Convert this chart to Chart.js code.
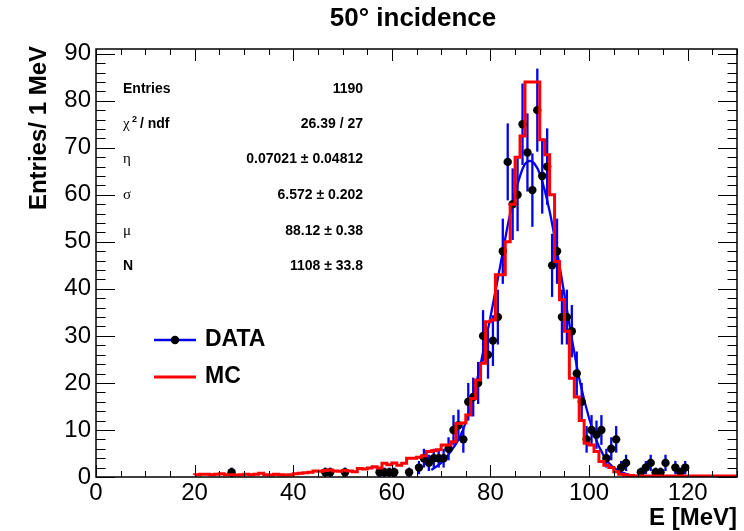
<!DOCTYPE html>
<html>
<head>
<meta charset="utf-8">
<script src="https://cdn.jsdelivr.net/npm/chart.js@4.4.1/dist/chart.umd.min.js"></script>
<style>
  html, body { margin: 0; padding: 0; background: #fff; }
  #wrap { width: 744px; height: 531px; }
</style>
</head>
<body>
<div id="wrap"><canvas id="chart" width="744" height="531"></canvas></div>
<script>
// --- data ---
const dataX = [27.5, 46.5, 47.5, 50.5, 57.5, 58.5, 59.5, 60.5, 63.5, 65.5, 66.5, 67.5, 68.5, 69.5, 70.5,
  71.5, 72.5, 73.5, 74.5, 75.5, 76.5, 77.5, 78.5, 79.5, 80.5, 81.5, 82.5, 83.5, 84.5, 85.5,
  86.5, 87.5, 88.5, 89.5, 90.5, 91.5, 92.5, 93.5, 94.5, 95.5, 96.5, 97.5, 98.5, 99.5, 100.5,
  101.5, 102.5, 103.5, 104.5, 105.5, 106.5, 107.5, 110.5, 111.5, 112.5, 113.5, 114.5, 115.5,
  117.5, 118.5, 119.5];
const dataY = [1, 1, 1, 1, 1, 1, 1, 1, 1, 2, 4, 3, 4, 4, 4,
  6, 10, 11, 8, 16, 17, 20, 30, 26, 29, 34, 48, 67, 58, 60,
  75, 69, 61, 78, 64, 66, 45, 48, 34, 34, 31, 22, 16, 8, 10,
  9, 10, 4, 6, 8, 2, 3, 1, 2, 3, 1, 1, 3,
  2, 1, 2];

// MC histogram, 1 MeV bins starting at 20 MeV
const mcFirstEdge = 20;
const mcValues = [
  0.4, 0.5, 0.6, 0.6, 0.5, 0.6, 0.7, 0.5, 0.5, 0.4,   // 20-29
  0.5, 0.6, 0.5, 0.6, 0.8, 0.5, 0.4, 0.6, 0.5, 0.4,   // 30-39
  0.5, 0.7, 0.8, 0.9, 1.0, 1.3, 1.2, 1.4, 1.5, 1.3,   // 40-49
  1.2, 1.4, 1.3, 1.1, 1.8, 1.7, 1.9, 2.2, 1.9, 2.9,   // 50-59
  2.6, 3.0, 2.5, 2.9, 4.0, 4.0, 4.2, 4.5, 5.4, 5.6,   // 60-69
  5.8, 6.8, 6.8, 7.5, 11.4, 11.5, 13.2, 16.7, 20.6, 24.2, // 70-79
  33.0, 33.4, 43, 43, 50, 58, 68, 72.5, 84, 84,        // 80-89
  84, 71.7, 68.5, 60, 45.8, 37.7, 31, 21, 17, 12,      // 90-99
  7.2, 6.8, 5.4, 3.3, 2.5, 2.0, 1.1, 0.6, 0.4, 0.3,    // 100-109
  0.2, 0.2, 0.2, 0.2, 0.2, 0.2, 0.2, 0.2, 0.2, 0.2,    // 110-119
  0.2, 0.2, 0.2, 0.2, 0.2, 0.2, 0.2, 0.2, 0.2, 0.2     // 120-129
];

// fitted curve
const fitX = [68, 70, 72, 74, 76, 78, 80, 82, 84, 86, 87, 88, 89, 90, 92, 94, 96, 98, 100, 102, 104, 106, 108];
const fitY = [1.5, 3, 5.5, 9, 15, 24, 34, 45, 56, 64, 66.5, 67.2, 66.5, 64.5, 56.5, 45, 32.5, 21, 12.5, 6.5, 3, 1.3, 0.5];

const xTickStep = 20;
const yTickStep = 10;

const statsRows = [
  ['Entries', '1190'],
  ['chi', '26.39 / 27'],
  ['\u03b7', '0.07021 \u00b1 0.04812'],
  ['\u03c3', '6.572 \u00b1 0.202'],
  ['\u03bc', '88.12 \u00b1 0.38'],
  ['N', '1108 \u00b1 33.8']
];

// --- build datasets ---
const mcPoints = mcValues.map((v, i) => ({ x: mcFirstEdge + i, y: v }));
mcPoints.push({ x: mcFirstEdge + mcValues.length, y: mcValues[mcValues.length - 1] });
const dataPoints = dataX.map((x, i) => ({ x: x, y: dataY[i] }));
const fitPoints = fitX.map((x, i) => ({ x: x, y: fitY[i] }));

const SANS = '"Liberation Sans", Arial, Helvetica, sans-serif';
const SERIF = '"Liberation Serif", "DejaVu Serif", serif';

// error bars + frame + ticks + text, ROOT look
const rootStyle = {
  id: 'rootStyle',
  beforeDatasetsDraw(chart) {
    const ctx = chart.ctx, xs = chart.scales.x, ys = chart.scales.y;
    const a = chart.chartArea;
    ctx.save();
    ctx.beginPath();
    ctx.rect(a.left, a.top, a.right - a.left, a.bottom - a.top);
    ctx.clip();
    ctx.strokeStyle = '#0000ee';
    ctx.lineWidth = 2.3;
    dataX.forEach((x, i) => {
      const e = Math.sqrt(dataY[i]);
      const px = xs.getPixelForValue(x);
      ctx.beginPath();
      ctx.moveTo(px, ys.getPixelForValue(dataY[i] - e));
      ctx.lineTo(px, ys.getPixelForValue(dataY[i] + e));
      ctx.stroke();
    });
    ctx.restore();
  },
  afterDraw(chart) {
    const ctx = chart.ctx, xs = chart.scales.x, ys = chart.scales.y;
    const a = chart.chartArea;
    ctx.save();
    ctx.strokeStyle = '#000';
    ctx.lineWidth = 1.5;
    ctx.strokeRect(a.left, a.top, a.right - a.left, a.bottom - a.top);

    // inward ticks on all four sides
    ctx.lineWidth = 1;
    ctx.beginPath();
    for (let v = 0; v <= 130; v += 5) {
      const px = Math.round(xs.getPixelForValue(v)) + 0.5;
      const len = v % xTickStep === 0 ? 12 : 6;
      ctx.moveTo(px, a.bottom); ctx.lineTo(px, a.bottom - len);
      ctx.moveTo(px, a.top); ctx.lineTo(px, a.top + len);
    }
    for (let v = 0; v <= 90; v += 2) {
      const py = Math.round(ys.getPixelForValue(v)) + 0.5;
      const len = v % yTickStep === 0 ? 19 : 9.5;
      ctx.moveTo(a.left, py); ctx.lineTo(a.left + len, py);
      ctx.moveTo(a.right, py); ctx.lineTo(a.right - len, py);
    }
    ctx.stroke();

    // titles
    ctx.fillStyle = '#000';
    ctx.font = 'bold 26px ' + SANS;
    ctx.textAlign = 'center';
    ctx.textBaseline = 'middle';
    ctx.fillText('50\u00b0 incidence', 413, 19);

    ctx.font = 'bold 24px ' + SANS;
    ctx.textAlign = 'right';
    ctx.textBaseline = 'alphabetic';
    ctx.fillText('E [MeV]', a.right, 525);

    ctx.save();
    ctx.translate(46, a.top - 3);
    ctx.rotate(-Math.PI / 2);
    ctx.textAlign = 'right';
    ctx.fillText('Entries/ 1 MeV', 0, 0);
    ctx.restore();

    // stats box text
    const rowY = [89, 124, 159, 195, 231, 266];
    ctx.textBaseline = 'middle';
    statsRows.forEach((r, i) => {
      const y = rowY[i];
      ctx.textAlign = 'left';
      if (r[0] === 'chi') {
        ctx.font = '15px ' + SERIF;
        ctx.fillText('\u03c7', 123, y);
        ctx.font = 'bold 9px ' + SANS;
        ctx.fillText('2', 132, y - 4);
        ctx.font = 'bold 14px ' + SANS;
        ctx.fillText(' / ndf', 136, y);
      } else if (r[0] === 'Entries' || r[0] === 'N') {
        ctx.font = 'bold 14px ' + SANS;
        ctx.fillText(r[0], 123, y);
      } else {
        ctx.font = '15px ' + SERIF;
        ctx.fillText(r[0], 123, y);
      }
      ctx.font = 'bold 14px ' + SANS;
      ctx.textAlign = 'right';
      ctx.fillText(r[1], 363, y);
    });

    // legend
    ctx.lineWidth = 2.5;
    ctx.strokeStyle = '#0000ee';
    ctx.beginPath(); ctx.moveTo(154, 340); ctx.lineTo(196, 340); ctx.stroke();
    ctx.fillStyle = '#000';
    ctx.beginPath(); ctx.arc(175, 340, 4.2, 0, Math.PI * 2); ctx.fill();
    ctx.strokeStyle = '#ff0000';
    ctx.lineWidth = 3;
    ctx.beginPath(); ctx.moveTo(154, 377); ctx.lineTo(196, 377); ctx.stroke();
    ctx.font = 'bold 23px ' + SANS;
    ctx.textAlign = 'left';
    ctx.textBaseline = 'middle';
    ctx.fillText('DATA', 205, 340);
    ctx.fillText('MC', 205, 377);
    ctx.restore();
  }
};

new Chart(document.getElementById('chart'), {
  type: 'scatter',
  data: {
    datasets: [
      {
        label: 'MC',
        data: mcPoints,
        showLine: true,
        stepped: 'after',
        borderColor: '#ff0000',
        borderWidth: 3,
        pointRadius: 0,
        fill: false,
        order: 0
      },
      {
        label: 'DATA',
        data: dataPoints,
        showLine: false,
        pointRadius: 4.2,
        pointBackgroundColor: '#000',
        pointBorderWidth: 0,
        order: 1
      },
      {
        label: 'fit',
        data: fitPoints,
        showLine: true,
        borderColor: '#0000ee',
        borderWidth: 2.3,
        pointRadius: 0,
        cubicInterpolationMode: 'monotone',
        fill: false,
        order: 2
      }
    ]
  },
  options: {
    responsive: false,
    animation: false,
    devicePixelRatio: 1,
    layout: { padding: { top: 49, right: 7, left: 0, bottom: 0 } },
    plugins: { legend: { display: false }, tooltip: { enabled: false } },
    scales: {
      x: {
        type: 'linear', min: 0, max: 130,
        grid: { display: false, drawTicks: false }, border: { display: false },
        ticks: { stepSize: xTickStep, includeBounds: false, color: '#000', padding: 2,
                 maxRotation: 0, autoSkip: false, font: { family: SANS, size: 24 } },
        afterFit(s) { s.height = 54; }
      },
      y: {
        type: 'linear', min: 0, max: 91,
        grid: { display: false, drawTicks: false }, border: { display: false },
        ticks: { stepSize: yTickStep, includeBounds: false, color: '#000', padding: 5,
                 font: { family: SANS, size: 24 } },
        afterFit(s) { s.width = 96; }
      }
    }
  },
  plugins: [rootStyle]
});
</script>
</body>
</html>
